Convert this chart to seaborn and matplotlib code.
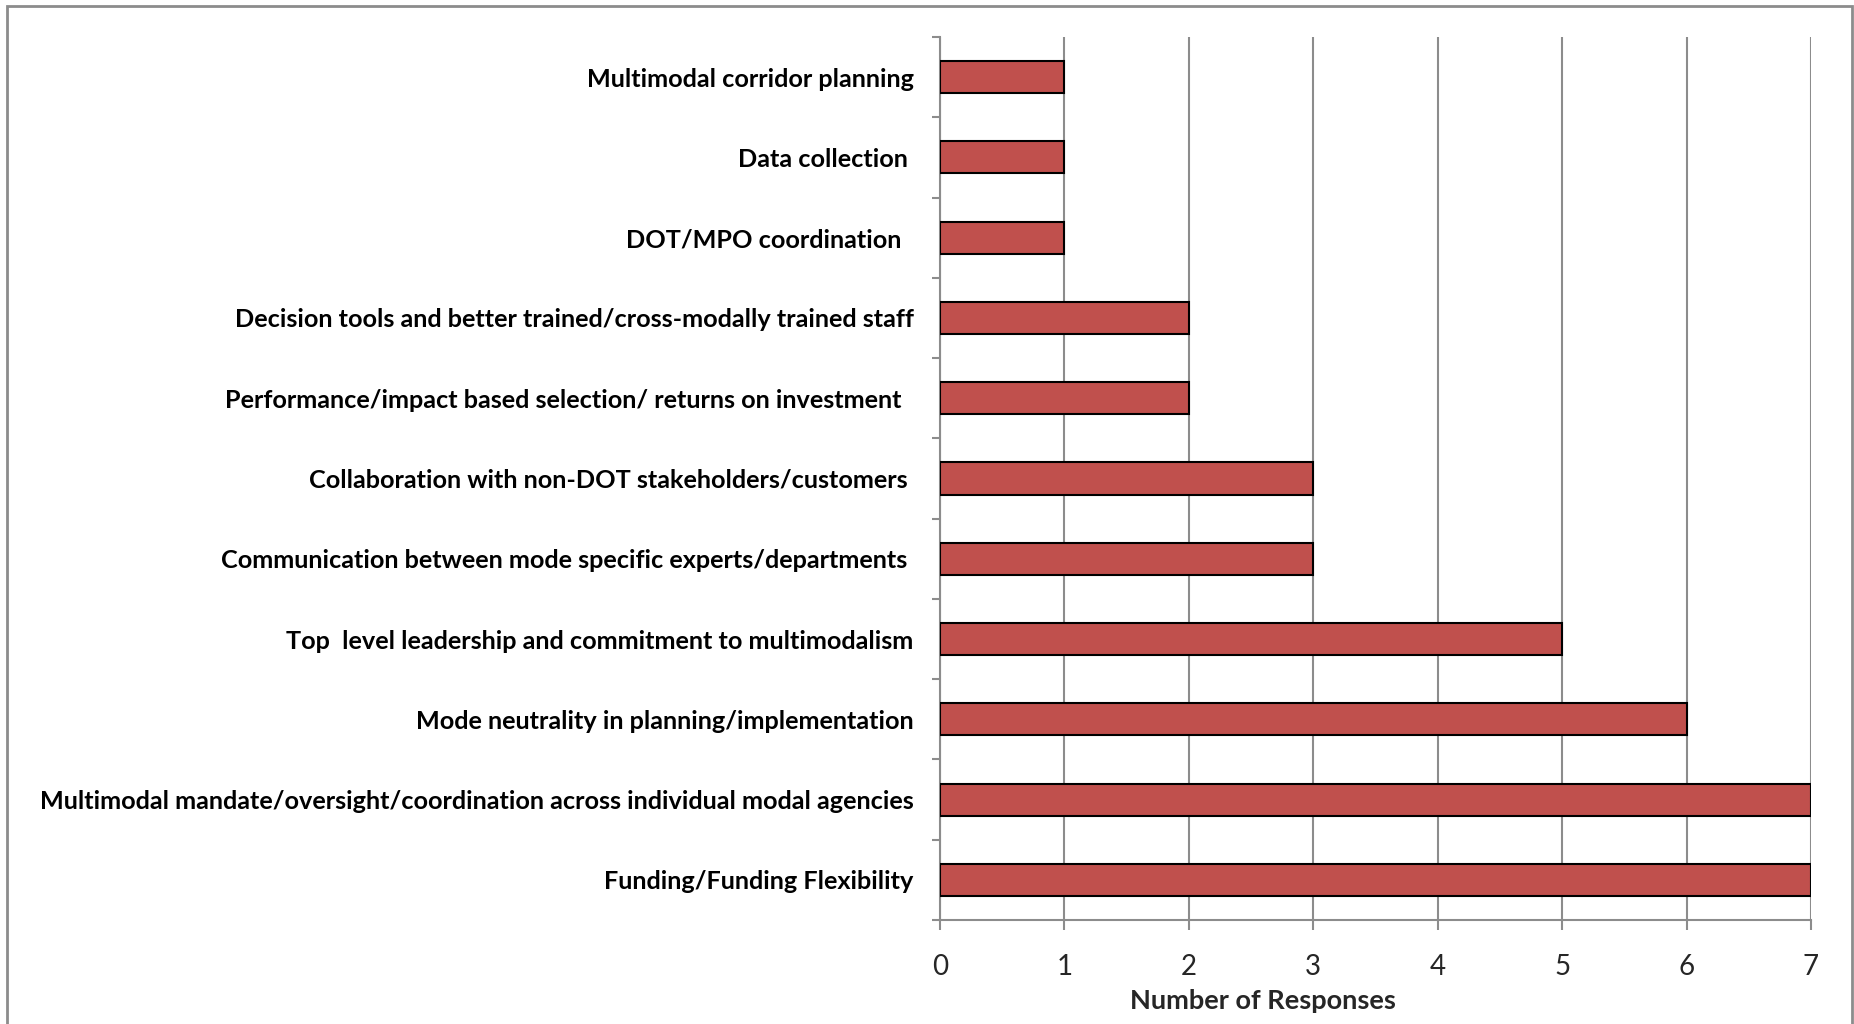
import matplotlib
matplotlib.use("Agg")
import matplotlib.pyplot as plt
import seaborn as sns
import pandas as pd
from matplotlib.patches import Rectangle

categories = [
    "Multimodal corridor planning",
    "Data collection ",
    "DOT/MPO coordination  ",
    "Decision tools and better trained/cross-modally trained staff",
    "Performance/impact based selection/ returns on investment  ",
    "Collaboration with non-DOT stakeholders/customers ",
    "Communication between mode specific experts/departments ",
    "Top  level leadership and commitment to multimodalism",
    "Mode neutrality in planning/implementation",
    "Multimodal mandate/oversight/coordination across individual modal agencies",
    "Funding/Funding Flexibility",
]
responses = [1, 1, 1, 2, 2, 3, 3, 5, 6, 7, 7]
x_ticks = [0, 1, 2, 3, 4, 5, 6, 7]
x_label = "Number of Responses"

df = pd.DataFrame({"category": categories, "responses": responses})

sns.set_theme(style="white")
plt.rcParams["font.family"] = ["Lato", "DejaVu Sans"]

fig = plt.figure(figsize=(18.54, 10.24), dpi=100)
ax = fig.add_axes([940/1854, 1-920/1024, (1811-940)/1854, (920-37)/1024])

sns.barplot(data=df, x="responses", y="category", orient="h", color="#C0504D",
            saturation=1, edgecolor="black", linewidth=1.5, width=0.4, ax=ax, zorder=3)

ax.set_xlim(0, 7)
ax.set_ylim(len(categories) - 0.5, -0.5)
ax.set_xticks(x_ticks)
ax.set_xticklabels([str(t) for t in x_ticks], fontsize=20)
ax.xaxis.grid(True, color="#8c8c8c", linewidth=1.5, zorder=0)
ax.set_axisbelow(True)
ax.set_yticks(range(len(categories)))
ax.set_yticklabels(categories, fontsize=18.2, fontweight="bold")
ax.set_yticks([i - 0.5 for i in range(len(categories) + 1)], minor=True)
ax.tick_params(axis="y", which="major", length=0, pad=19, colors="black")
ax.tick_params(axis="y", which="minor", length=6, width=1.5, color="#8c8c8c", left=True)
ax.tick_params(axis="x", which="major", length=7, width=1.5, color="#8c8c8c", pad=17.5, bottom=True)
ax.set_ylabel("")
ax.set_xlabel(x_label, fontsize=19.5, fontweight="bold")
ax.xaxis.set_label_coords(0.371, -0.078)

for side in ["top", "right"]:
    ax.spines[side].set_visible(False)
for side in ["left", "bottom"]:
    ax.spines[side].set_color("#8c8c8c")
    ax.spines[side].set_linewidth(1.5)

fig.patches.append(Rectangle((7/1854, -0.02), (1852-7)/1854, 1.02 - 6/1024,
                             transform=fig.transFigure, fill=False,
                             edgecolor="#8c8c8c", linewidth=2))

fig.savefig("out.png", dpi=100)
